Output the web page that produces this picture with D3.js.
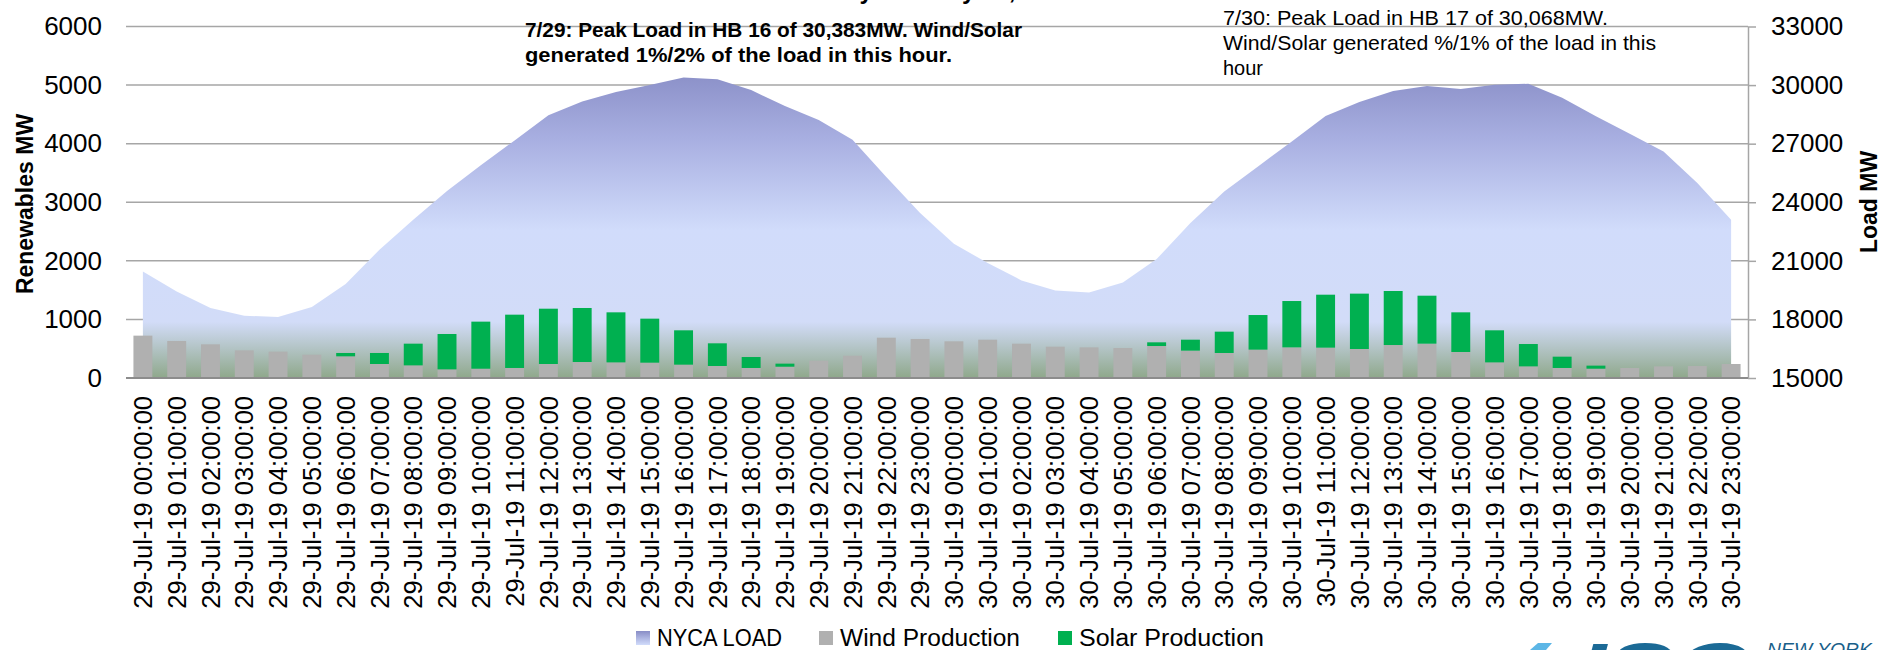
<!DOCTYPE html>
<html>
<head>
<meta charset="utf-8">
<script src="https://cdn.jsdelivr.net/npm/d3@7"></script>
<style>
  body { margin: 0; background: #fff; }
  text { font-family: "Liberation Sans", Arial, sans-serif; }
</style>
</head>
<body>
<div id="chart"></div>
<script>
const categories = [
  "29-Jul-19 00:00:00", "29-Jul-19 01:00:00", "29-Jul-19 02:00:00", "29-Jul-19 03:00:00",
  "29-Jul-19 04:00:00", "29-Jul-19 05:00:00", "29-Jul-19 06:00:00", "29-Jul-19 07:00:00",
  "29-Jul-19 08:00:00", "29-Jul-19 09:00:00", "29-Jul-19 10:00:00", "29-Jul-19 11:00:00",
  "29-Jul-19 12:00:00", "29-Jul-19 13:00:00", "29-Jul-19 14:00:00", "29-Jul-19 15:00:00",
  "29-Jul-19 16:00:00", "29-Jul-19 17:00:00", "29-Jul-19 18:00:00", "29-Jul-19 19:00:00",
  "29-Jul-19 20:00:00", "29-Jul-19 21:00:00", "29-Jul-19 22:00:00", "29-Jul-19 23:00:00",
  "30-Jul-19 00:00:00", "30-Jul-19 01:00:00", "30-Jul-19 02:00:00", "30-Jul-19 03:00:00",
  "30-Jul-19 04:00:00", "30-Jul-19 05:00:00", "30-Jul-19 06:00:00", "30-Jul-19 07:00:00",
  "30-Jul-19 08:00:00", "30-Jul-19 09:00:00", "30-Jul-19 10:00:00", "30-Jul-19 11:00:00",
  "30-Jul-19 12:00:00", "30-Jul-19 13:00:00", "30-Jul-19 14:00:00", "30-Jul-19 15:00:00",
  "30-Jul-19 16:00:00", "30-Jul-19 17:00:00", "30-Jul-19 18:00:00", "30-Jul-19 19:00:00",
  "30-Jul-19 20:00:00", "30-Jul-19 21:00:00", "30-Jul-19 22:00:00", "30-Jul-19 23:00:00"
];

// NYCA load, right axis
const loadMW = [
  20460, 19436, 18583, 18190, 18122, 18634, 19811, 21568, 23104, 24571, 25901, 27167,
  28450, 29160, 29650, 30000, 30383, 30300, 29744, 28925, 28208, 27198, 25287, 23445,
  21875, 20886, 19998, 19487, 19384, 19896, 21090, 22933, 24554, 25833, 27113, 28413,
  29130, 29693, 29949, 29795, 30020, 30068, 29350, 28400, 27505, 26601, 24980, 23103
];

// renewables, left axis
const windMW = [
  723, 632, 575, 472, 450, 398, 370, 239, 216, 148, 159, 171,
  239, 273, 267, 262, 228, 205, 171, 193, 296, 381, 688, 666,
  626, 654, 586, 535, 523, 512, 546, 467, 427, 484, 523, 518,
  495, 563, 586, 444, 267, 199, 171, 159, 171, 199, 205, 239
];
const solarMW = [
  0, 0, 0, 0, 0, 0, 57, 188, 370, 603, 803, 910,
  944, 922, 854, 751, 586, 387, 187, 52, 0, 0, 0, 0,
  0, 0, 0, 0, 0, 0, 63, 187, 364, 591, 791, 904,
  945, 922, 819, 677, 547, 381, 193, 52, 0, 0, 0, 0
];

const leftTicks = [0, 1000, 2000, 3000, 4000, 5000, 6000];
const rightTicks = [15000, 18000, 21000, 24000, 27000, 30000, 33000];
const seriesNames = ["NYCA LOAD", "Wind Production", "Solar Production"];
const note1 = ["7/29: Peak Load in HB 16 of 30,383MW. Wind/Solar", "generated 1%/2% of the load in this hour."];
const note2 = ["7/30: Peak Load in HB 17 of 30,068MW.", "Wind/Solar generated %/1% of the load in this", "hour"];
const title = "NYCA Load vs. Wind and Solar Production: July 29 - July 30, 2019";

const width = 1881;
const height = 650;
const plotLeft = 126, plotRight = 1748, plotTop = 26.5, plotBottom = 378;
const font = "Liberation Sans, Arial, sans-serif";

const svg = d3.select("#chart").append("svg").attr("width", width).attr("height", height);

// gradients
const defs = svg.append("defs");
const areaGrad = defs.append("linearGradient").attr("id", "loadGrad")
  .attr("gradientUnits", "userSpaceOnUse").attr("x1", 0).attr("x2", 0).attr("y1", plotTop).attr("y2", plotBottom);
[[0, "#888dc6"], [0.14, "#8c91c9"], [0.32, "#a8afe1"], [0.58, "#d1dcfb"], [0.84, "#d2dcf8"], [1, "#8fa88b"]]
  .forEach(s => areaGrad.append("stop").attr("offset", s[0]).attr("stop-color", s[1]));
const swatchGrad = defs.append("linearGradient").attr("id", "swatchGrad")
  .attr("x1", 0).attr("x2", 0).attr("y1", 0).attr("y2", 1);
swatchGrad.append("stop").attr("offset", 0).attr("stop-color", "#888dc6");
swatchGrad.append("stop").attr("offset", 1).attr("stop-color", "#d1dcfb");

// scales
const x = d3.scaleBand().domain(categories).range([plotLeft, plotRight]).paddingInner(0.44).paddingOuter(0.22);
const yL = d3.scaleLinear().domain([0, 6000]).range([plotBottom, plotTop]);
const yR = d3.scaleLinear().domain([15000, 33000]).range([plotBottom, plotTop]);
const cx = (d) => x(d) + x.bandwidth() / 2;

// title, mostly cut off at the top
svg.append("text").attr("x", 700).attr("y", -1).attr("text-anchor", "middle")
  .attr("font-size", 24).attr("font-weight", "bold").text(title);

// gridlines
svg.append("g").selectAll("line").data(leftTicks.slice(1)).join("line")
  .attr("x1", plotLeft).attr("x2", plotRight)
  .attr("y1", (d) => yL(d)).attr("y2", (d) => yL(d))
  .attr("stroke", "#a6a6a6").attr("stroke-width", 1.5);

// load area
const area = d3.area()
  .x((d, i) => cx(categories[i]))
  .y0(yR(15000))
  .y1((d) => yR(d));
svg.append("path").datum(loadMW).attr("d", area).attr("fill", "url(#loadGrad)");

// stacked bars
const rows = categories.map((c, i) => ({ cat: c, wind: windMW[i], solar: solarMW[i] }));
const stacked = d3.stack().keys(["wind", "solar"])(rows);
const barColors = { wind: "#b0b0b0", solar: "#00b050" };
svg.append("g").selectAll("g").data(stacked).join("g")
  .attr("fill", (d) => barColors[d.key])
  .selectAll("rect").data((d) => d).join("rect")
  .attr("x", (d) => x(d.data.cat))
  .attr("width", x.bandwidth())
  .attr("y", (d) => yL(d[1]))
  .attr("height", (d) => yL(d[0]) - yL(d[1]));

// left axis labels
const axL = svg.append("g").attr("transform", `translate(${plotLeft},0)`)
  .call(d3.axisLeft(yL).tickValues(leftTicks).tickFormat(d3.format("d")).tickSize(0).tickPadding(24));
axL.select(".domain").remove();
axL.selectAll("text").attr("font-size", 26).attr("fill", "#000").style("font-family", font);

// right axis
const axR = svg.append("g").attr("transform", `translate(${plotRight},0)`)
  .call(d3.axisRight(yR).tickValues(rightTicks).tickFormat(d3.format("d")).tickSize(8).tickSizeOuter(0).tickPadding(15));
axR.select(".domain").attr("stroke", "#a6a6a6").attr("stroke-width", 1.5);
axR.selectAll("line").attr("stroke", "#a6a6a6").attr("stroke-width", 1.5);
axR.selectAll("text").attr("font-size", 26).attr("fill", "#000").style("font-family", font);

// category axis, rotated labels
const axB = svg.append("g").attr("transform", `translate(0,${plotBottom})`)
  .call(d3.axisBottom(x).tickSize(0));
axB.select(".domain").attr("stroke", "#8c8c8c").attr("stroke-width", 2).attr("d", `M${plotLeft},0H${plotRight}`);
axB.selectAll("text")
  .attr("transform", "rotate(-90)")
  .attr("text-anchor", "end")
  .attr("x", -18).attr("y", 0).attr("dy", "0.36em")
  .attr("font-size", 25.5).attr("fill", "#000")
  .style("font-family", font);

// axis titles
svg.append("text").attr("transform", "translate(33,204) rotate(-90)").attr("text-anchor", "middle")
  .attr("font-size", 23).attr("font-weight", "bold").text("Renewables MW");
svg.append("text").attr("transform", "translate(1877,202) rotate(-90)").attr("text-anchor", "middle")
  .attr("font-size", 23).attr("font-weight", "bold").text("Load MW");

// annotations
const note1Len = [497, 427];
svg.append("g").selectAll("text").data(note1).join("text")
  .attr("x", 525).attr("y", (d, i) => 37 + i * 25)
  .attr("font-size", 21).attr("font-weight", "bold")
  .attr("textLength", (d, i) => note1Len[i]).attr("lengthAdjust", "spacingAndGlyphs")
  .text((d) => d);
const note2Len = [385, 433, 40];
svg.append("g").selectAll("text").data(note2).join("text")
  .attr("x", 1223).attr("y", (d, i) => 25 + i * 25)
  .attr("font-size", 21)
  .attr("textLength", (d, i) => note2Len[i]).attr("lengthAdjust", "spacingAndGlyphs")
  .text((d) => d);

// legend
const legendX = [636, 819, 1058];
const legendLen = [125, 180, 185];
const legendFill = ["url(#swatchGrad)", barColors.wind, barColors.solar];
const legend = svg.append("g").selectAll("g").data(seriesNames).join("g")
  .attr("transform", (d, i) => `translate(${legendX[i]},631)`);
legend.append("rect").attr("width", 14).attr("height", 14).attr("fill", (d, i) => legendFill[i]);
legend.append("text").attr("x", 21).attr("y", 15).attr("font-size", 23)
  .attr("textLength", (d, i) => legendLen[i]).attr("lengthAdjust", "spacingAndGlyphs")
  .text((d) => d);

// logo, cut off at the bottom edge
svg.append("path").attr("d", "M1530,650 L1538,643 L1552,643 L1546,650 Z").attr("fill", "#5cb6e6");
svg.append("text").attr("x", 1578).attr("y", 694).attr("font-size", 72).attr("font-weight", "bold")
  .attr("font-style", "italic").attr("fill", "#1b6a96")
  .attr("textLength", 175).attr("lengthAdjust", "spacingAndGlyphs").text("ISO");
svg.append("text").attr("x", 1767).attr("y", 656).attr("font-size", 19).attr("font-style", "italic")
  .attr("fill", "#1a5f8a").attr("textLength", 105).attr("lengthAdjust", "spacingAndGlyphs").text("NEW YORK");
</script>
</body>
</html>
